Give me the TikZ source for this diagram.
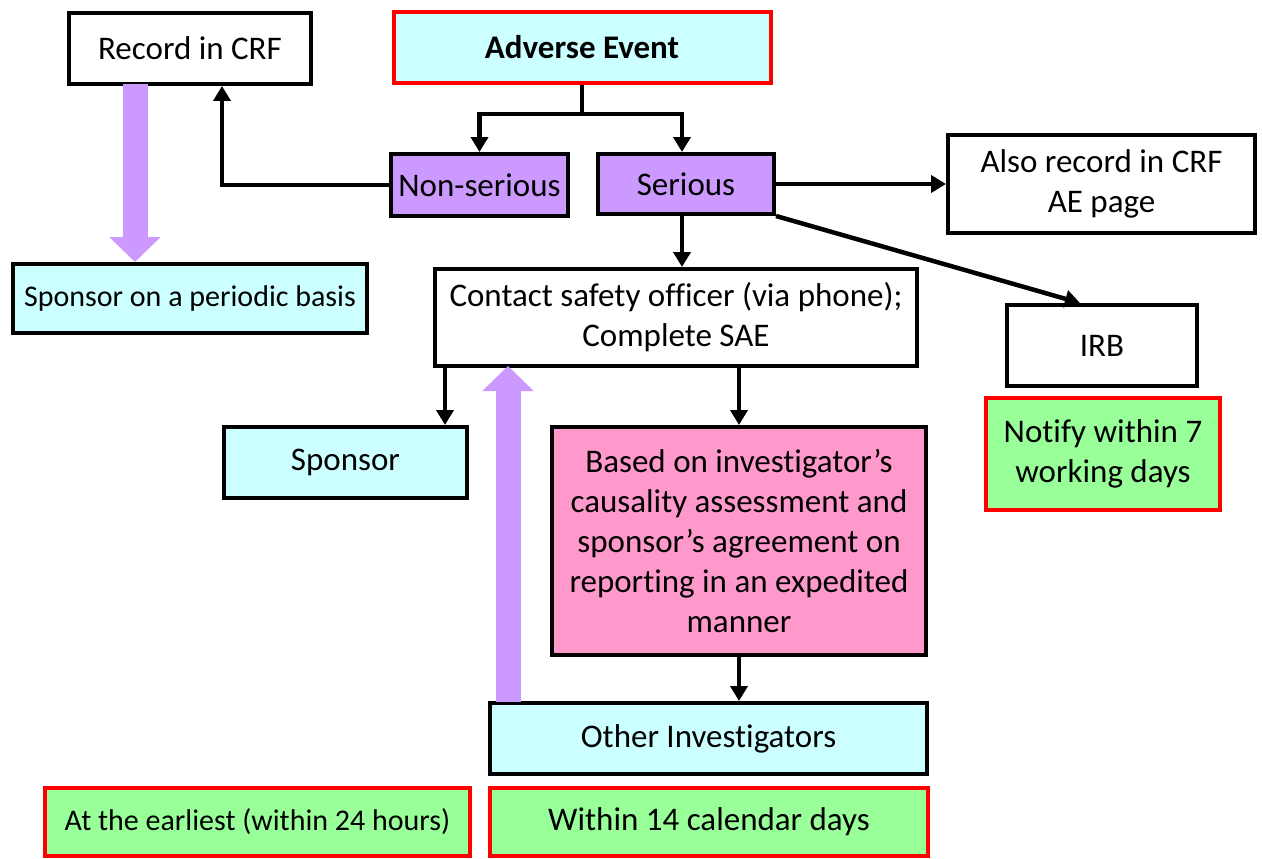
\documentclass[tikz,border=0pt]{standalone}
\usepackage{fontspec}
\setmainfont{Carlito}[Ligatures={NoCommon}]
\usetikzlibrary{arrows.meta,calc}
\definecolor{cyanf}{HTML}{CCFFFF}
\definecolor{purf}{HTML}{CC99FF}
\definecolor{pinkf}{HTML}{FF99CC}
\definecolor{greenf}{HTML}{99FF99}
\definecolor{redb}{HTML}{FF0000}
\tikzset{
  box/.style={draw=black, line width=4pt, align=center, inner sep=0pt,
    font=\fontsize{33}{40}\selectfont},
  smallbox/.style={box, font=\fontsize{30}{36}\selectfont},
  redbox/.style={draw=redb},
  conn/.style={line width=4.5pt, draw=black},
  arr/.style={conn, -{Triangle[length=15pt,width=17pt]}},
  fat/.style={line width=25pt, draw=purf, -{Triangle[length=25pt,width=50pt]}}
}
\begin{document}
\begin{tikzpicture}[x=1pt,y=-1pt]
\useasboundingbox (0,0) rectangle (1262,859);
% nodes
\node[box, minimum width=242, minimum height=71] (rec) at (190,48.5) {Record in CRF};
\node[box, redbox, fill=cyanf, minimum width=377, minimum height=71, font=\fontsize{33}{40}\selectfont\bfseries] (ae) at (582,47.5) {Adverse Event};
\node[box, fill=purf, minimum width=177, minimum height=62] (ns) at (479.5,185) {Non-serious};
\node[box, fill=purf, minimum width=176, minimum height=60] (ser) at (686,184) {Serious};
\node[box, minimum width=307, minimum height=98] (also) at (1101.5,184) {Also record in CRF\\AE page};
\node[box, minimum width=482, minimum height=97] (contact) at (676,317.5) {Contact safety officer (via phone);\\Complete SAE};
\node[box, minimum width=190, minimum height=81] (irb) at (1102,345.5) {IRB};
\node[box, redbox, fill=greenf, minimum width=234, minimum height=112] (notify) at (1103,454) {Notify within 7\\working days};
\node[smallbox, fill=cyanf, minimum width=354, minimum height=69] (spp) at (190,298.5) {Sponsor on a periodic basis};
\node[box, fill=cyanf, minimum width=243, minimum height=71] (sp) at (345.5,462.5) {Sponsor};
\node[box, fill=pinkf, minimum width=374, minimum height=228] (pink) at (739,541) {Based on investigator’s\\causality assessment and\\sponsor’s agreement on\\reporting in an expedited\\manner};
\node[box, fill=cyanf, minimum width=437, minimum height=71] (oth) at (708.5,738.5) {Other Investigators};
\node[box, redbox, fill=greenf, minimum width=438, minimum height=68] (w14) at (709,822) {Within 14 calendar days};
\node[smallbox, redbox, fill=greenf, minimum width=425, minimum height=68] (early) at (257.5,822) {At the earliest (within 24 hours)};
% connectors
\coordinate (j) at ($(ae.south)+(0,29)$);
\draw[conn] (ae.south) -- (j);
\draw[arr] ($(j)+(2,0)$) -| (ns.north);
\draw[arr] ($(j)+(-2,0)$) -| ([xshift=-4pt]ser.north);
\draw[arr] (ns.west) -| ([xshift=32pt]rec.south);
\draw[arr] (ser.east) -- (also.west);
\draw[arr] (ser.south east) -- ([xshift=-22pt]irb.north);
\draw[arr] ([xshift=-4pt]ser.south) -- ([xshift=-4pt]ser.south |- contact.north);
\draw[arr] ([xshift=12pt]contact.south west) -- ([xshift=12pt]contact.south west |- sp.north);
\draw[arr] (pink.north |- contact.south) -- (pink.north);
\draw[arr] (pink.south) -- (pink.south |- oth.north);
% fat purple arrows
\draw[fat] ([xshift=-55pt,yshift=2pt]rec.south) -- ([xshift=-55pt]rec.south |- spp.north);
\draw[fat] ([xshift=20pt,yshift=-1pt]oth.north west) -- ([xshift=20pt,yshift=2pt]oth.north west |- contact.south);
\end{tikzpicture}
\end{document}
